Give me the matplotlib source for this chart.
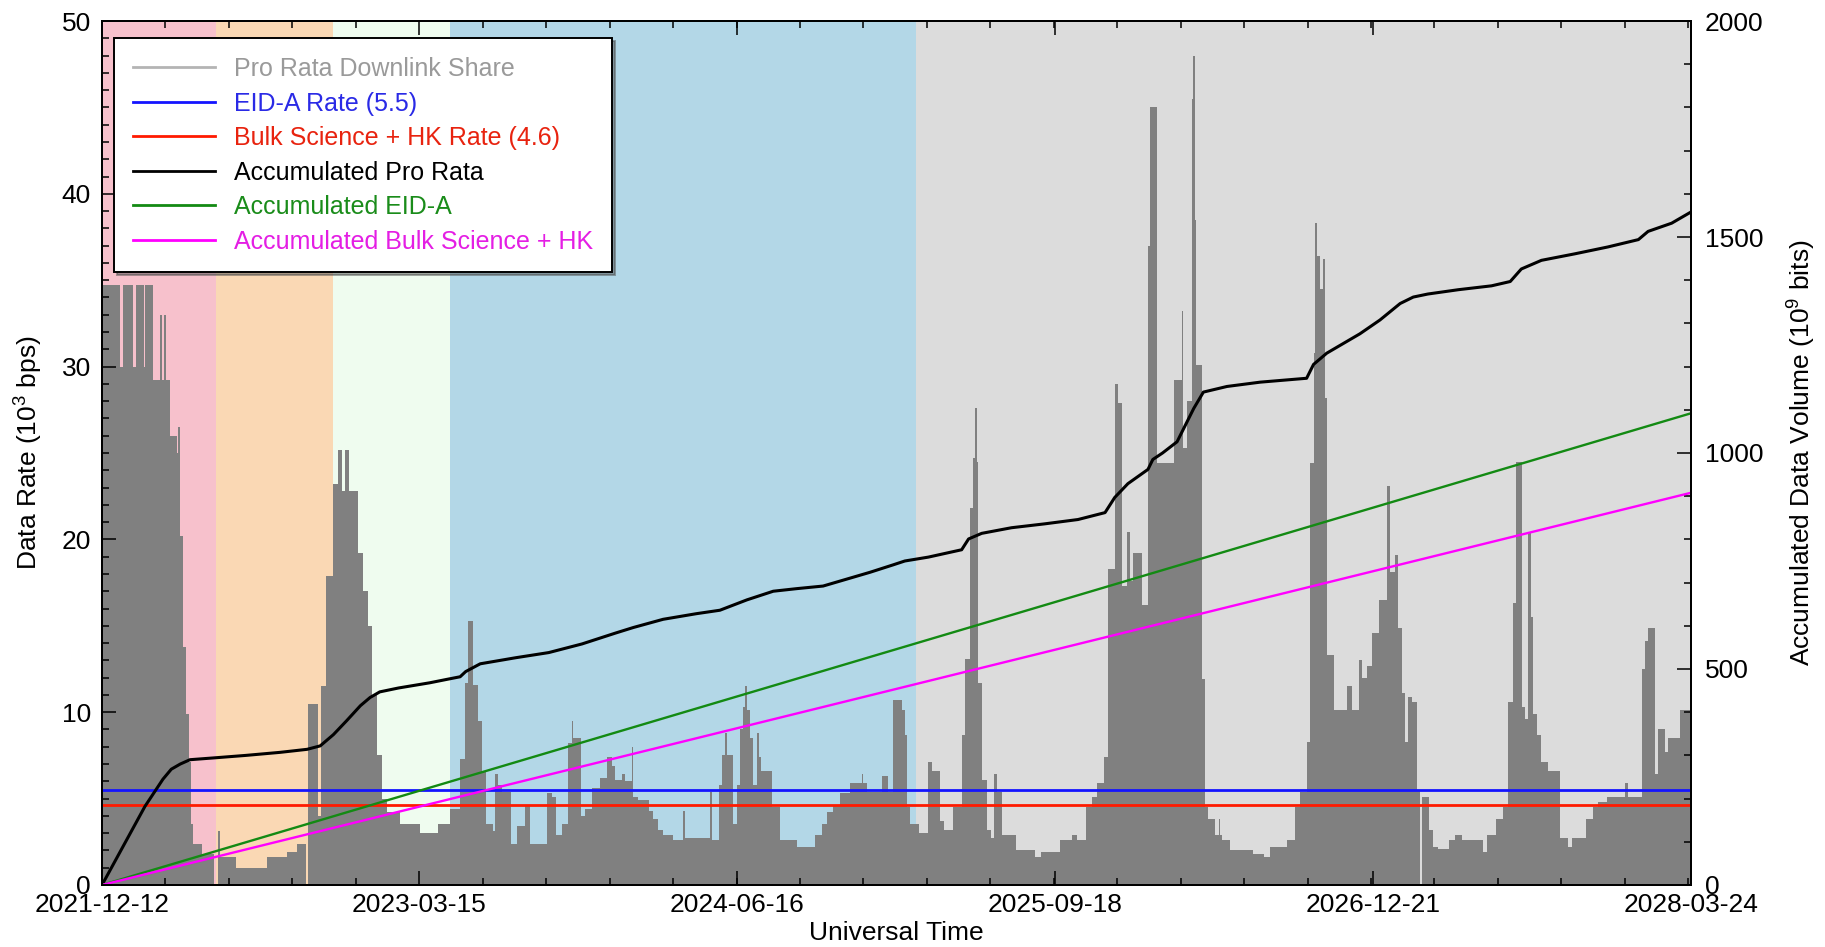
import numpy as np
import matplotlib
matplotlib.use("Agg")
import matplotlib.pyplot as plt
import matplotlib.dates as mdates
from matplotlib import font_manager
from matplotlib.lines import Line2D
from matplotlib.ticker import FixedLocator, MultipleLocator, AutoMinorLocator

installed = {f.name for f in font_manager.fontManager.ttflist}
if 'Liberation Sans Narrow' in installed:
    FONT, FS, LFS = 'Liberation Sans Narrow', 21, 21
else:
    FONT, FS, LFS = 'Liberation Sans', 19, 18
plt.rcParams['font.family'] = [FONT, 'DejaVu Sans']
plt.rcParams['mathtext.fontset'] = 'custom'
plt.rcParams['mathtext.rm'] = FONT
plt.rcParams['mathtext.it'] = FONT
plt.rcParams['mathtext.bf'] = FONT

# time axis
start = np.datetime64('2021-12-12')
end = np.datetime64('2028-03-24')
tick_dates = ['2021-12-12', '2023-03-15', '2024-06-16', '2025-09-18', '2026-12-21', '2028-03-24']

# mission phase shading
phase_edges = ['2021-12-12', '2022-05-26', '2022-11-10', '2023-04-28', '2025-03-01', '2028-03-24']
phase_colors = ['#f7c1cc', '#fad8b4', '#effcef', '#b3d7e7', '#dcdcdc']

# pro rata downlink share (10^3 bps), step edges in days since start
rate_days = [0, 26, 30, 45, 49, 60, 62, 74, 84, 87, 90, 93, 98, 108, 110, 112, 117, 121, 125, 128,
             132, 145, 161, 168, 171, 194, 238, 267, 281, 295, 298, 312, 316, 324, 334, 341, 346, 351, 356, 370,
             377, 384, 390, 397, 404, 411, 430, 459, 485, 502, 517, 524, 529, 536, 543, 548, 555, 565, 567, 572,
             577, 591, 599, 611, 618, 642, 649, 656, 664, 673, 678, 680, 692, 697, 707, 719, 729, 736, 741, 750,
             755, 765, 767, 774, 789, 796, 803, 810, 825, 839, 842, 878, 880, 890, 895, 899, 902, 911, 916, 921,
             926, 928, 931, 936, 940, 945, 948, 952, 967, 979, 1003, 1029, 1039, 1046, 1056, 1065, 1080, 1097, 1099, 1104,
             1126, 1135, 1142, 1155, 1159, 1162, 1167, 1179, 1193, 1198, 1210, 1215, 1229, 1241, 1246, 1253, 1258, 1260, 1263, 1265,
             1270, 1277, 1284, 1287, 1292, 1299, 1320, 1347, 1356, 1383, 1400, 1407, 1421, 1429, 1436, 1446, 1453, 1462, 1467, 1472,
             1479, 1484, 1489, 1501, 1510, 1513, 1523, 1547, 1559, 1561, 1566, 1573, 1575, 1578, 1580, 1588, 1592, 1597, 1607, 1612,
             1614, 1617, 1628, 1662, 1677, 1686, 1710, 1722, 1730, 1739, 1744, 1749, 1751, 1754, 1758, 1763, 1766, 1768, 1778, 1797,
             1804, 1814, 1819, 1826, 1833, 1843, 1855, 1859, 1867, 1871, 1876, 1881, 1886, 1891, 1898, 1902, 1905, 1915, 1922, 1929,
             1944, 1953, 1963, 1994, 1999, 2013, 2023, 2030, 2037, 2042, 2050, 2054, 2059, 2063, 2066, 2071, 2078, 2088, 2105, 2117,
             2122, 2143, 2153, 2160, 2172, 2199, 2203, 2223, 2228, 2232, 2242, 2247, 2256, 2261, 2278, 2294]
rate_vals = [34.7, 30.0, 34.7, 30.0, 34.7, 30.0, 34.7, 29.2, 33.0, 29.2, 33.0, 29.2, 26.0, 25.0, 26.5, 20.2, 13.8, 9.9, 7.1, 3.5,
             2.4, 1.8, 0.0, 3.1, 1.6, 1.0, 1.6, 1.9, 2.4, 0.0, 10.5, 4.0, 11.5, 17.9, 23.2, 25.2, 22.8, 25.2, 22.8, 19.2,
             17.0, 15.0, 11.0, 7.5, 5.0, 4.2, 3.5, 3.0, 3.5, 4.4, 7.3, 11.7, 15.3, 11.6, 9.5, 6.6, 3.5, 3.1, 6.4, 5.8,
             5.4, 2.4, 3.4, 4.6, 2.4, 5.3, 5.1, 2.9, 3.5, 8.2, 9.5, 8.5, 4.0, 4.4, 5.6, 6.2, 7.4, 6.9, 6.1, 6.4,
             6.0, 8.0, 5.1, 4.9, 4.3, 3.8, 3.2, 2.9, 2.6, 4.3, 2.7, 5.4, 2.6, 5.8, 7.5, 8.8, 7.5, 3.5, 5.8, 9.0,
             10.3, 11.5, 10.1, 8.5, 5.8, 8.8, 7.4, 6.6, 4.5, 2.6, 2.2, 2.9, 3.5, 4.2, 4.6, 5.3, 5.9, 6.4, 5.9, 5.4,
             6.3, 5.4, 10.7, 10.1, 8.7, 4.5, 3.5, 3.0, 7.1, 6.6, 3.7, 3.2, 4.5, 8.7, 13.1, 21.8, 24.7, 27.6, 24.5, 11.7,
             6.1, 3.2, 2.7, 6.4, 5.4, 2.9, 2.0, 1.6, 1.9, 2.6, 2.9, 2.6, 4.5, 5.1, 5.9, 7.4, 18.3, 29.0, 27.9, 17.3,
             20.4, 17.6, 19.2, 16.2, 37.0, 45.0, 24.4, 29.2, 33.2, 25.3, 28.0, 45.5, 48.0, 38.5, 30.1, 11.9, 4.5, 3.8, 2.9, 3.8,
             2.9, 2.6, 2.0, 1.8, 1.6, 2.2, 2.6, 4.5, 5.4, 8.3, 24.4, 30.8, 38.3, 36.4, 34.5, 36.2, 28.2, 13.3, 10.1, 11.5,
             10.1, 13.0, 12.0, 12.7, 14.6, 16.5, 23.1, 18.1, 19.1, 14.9, 11.1, 8.3, 10.9, 10.6, 5.5, 0.0, 5.1, 3.2, 2.2, 2.1,
             2.6, 2.9, 2.6, 1.9, 2.9, 3.8, 4.5, 10.6, 16.3, 24.5, 10.3, 9.6, 20.4, 15.5, 9.9, 8.7, 7.1, 6.6, 2.7, 2.2,
             2.7, 3.8, 4.5, 4.8, 5.1, 5.9, 5.1, 12.5, 14.1, 14.9, 6.4, 9.0, 7.7, 8.5, 10.1]

# accumulated data volume (10^9 bits)
acc_days = [0, 62, 88, 100, 113, 127, 160, 208, 257, 296, 315, 334, 353, 373, 387, 401, 428, 473, 498, 517,
            525, 546, 597, 645, 693, 741, 767, 810, 858, 892, 931, 969, 1003, 1041, 1075, 1109, 1142, 1159, 1193, 1241,
            1251, 1270, 1313, 1361, 1409, 1448, 1462, 1481, 1510, 1517, 1531, 1552, 1576, 1590, 1624, 1672, 1739, 1749, 1768, 1816,
            1845, 1874, 1893, 1914, 1958, 2006, 2033, 2049, 2078, 2126, 2174, 2218, 2232, 2266, 2294]
acc_prorata = [0, 182, 245, 268, 280, 290, 294, 300, 307, 314, 322, 348, 380, 415, 434, 447, 456, 468, 476, 482,
               494, 512, 526, 538, 558, 583, 596, 615, 628, 636, 660, 680, 686, 692, 708, 724, 741, 750, 759, 776,
               801, 814, 827, 836, 846, 862, 897, 929, 962, 985, 1000, 1026, 1103, 1141, 1154, 1164, 1173, 1205, 1231, 1276,
               1308, 1346, 1361, 1368, 1378, 1387, 1397, 1426, 1446, 1461, 1477, 1494, 1513, 1532, 1558]
line_days = [0, 2294]
acc_eid = [0, 1092]
acc_bulk = [0, 908]
eid_rate = 5.5
bulk_rate = 4.6


def to_num(days):
    return mdates.date2num(start + np.asarray(days).astype('timedelta64[D]'))


fig = plt.figure(figsize=(18.25, 9.47), dpi=100)
ax = fig.add_axes([0.0559, 0.0655, 0.8707, 0.9123])

for i, c in enumerate(phase_colors):
    ax.axvspan(mdates.date2num(np.datetime64(phase_edges[i])),
               mdates.date2num(np.datetime64(phase_edges[i + 1])),
               color=c, lw=0, zorder=0)

ax.stairs(rate_vals, to_num(rate_days), fill=True, color='#808080', lw=0, zorder=1)
ax.axhline(eid_rate, color='#1414ff', lw=2, zorder=3)
ax.axhline(bulk_rate, color='#ff1a00', lw=2, zorder=3)

ax.set_xlim(mdates.date2num(start), mdates.date2num(end))
ax.set_ylim(0, 50)
ax.xaxis.set_major_locator(FixedLocator(mdates.date2num(np.array(tick_dates, dtype='datetime64[D]'))))
ax.xaxis.set_minor_locator(AutoMinorLocator(5))
ax.xaxis.set_major_formatter(mdates.DateFormatter('%Y-%m-%d'))
ax.yaxis.set_major_locator(MultipleLocator(10))
ax.yaxis.set_minor_locator(MultipleLocator(1))
ax.tick_params(which='both', direction='in', top=True, right=False, width=1.1, labelsize=FS)
ax.tick_params(which='major', length=10)
ax.tick_params(which='minor', length=5)
ax.tick_params(axis='x', pad=6)
ax.tick_params(axis='y', pad=8)
ax.set_xlabel('Universal Time', fontsize=FS, labelpad=3)
ax.set_ylabel(r'Data Rate (10$^{3}$ bps)', fontsize=FS, labelpad=12)
for s in ax.spines.values():
    s.set_linewidth(1.4)

ax2 = ax.twinx()
ax2.plot(to_num(acc_days), acc_prorata, color='black', lw=2.2)
ax2.plot(to_num(line_days), acc_eid, color='#138a13', lw=1.7)
ax2.plot(to_num(line_days), acc_bulk, color='#ff00ff', lw=1.7)
ax2.set_ylim(0, 2000)
ax2.yaxis.set_major_locator(MultipleLocator(500))
ax2.yaxis.set_minor_locator(MultipleLocator(100))
ax2.tick_params(which='both', direction='in', width=1.1, labelsize=FS, pad=10)
ax2.tick_params(which='major', length=10)
ax2.tick_params(which='minor', length=5)
ax2.set_ylabel(r'Accumulated Data Volume (10$^{9}$ bits)', fontsize=FS, labelpad=16)
for s in ax2.spines.values():
    s.set_linewidth(1.4)

labels = ['Pro Rata Downlink Share', f'EID-A Rate ({eid_rate})', f'Bulk Science + HK Rate ({bulk_rate})',
          'Accumulated Pro Rata', 'Accumulated EID-A', 'Accumulated Bulk Science + HK']
line_colors = ['#b4b4b4', '#1414ff', '#ff1a00', 'black', '#138a13', '#ff00ff']
text_colors = ['#9a9a9a', '#2a2ae6', '#e8230f', 'black', '#1a8c1a', '#e41ee4']
handles = [Line2D([], [], color=c, lw=2) for c in line_colors]
leg = ax2.legend(handles, labels, loc='upper left', bbox_to_anchor=(0.0076, 0.98), borderaxespad=0,
                 fontsize=LFS, frameon=True, fancybox=False, shadow=True, framealpha=1,
                 handlelength=3.3, handletextpad=0.75, labelspacing=0.42, borderpad=0.75)
leg.get_frame().set_edgecolor('black')
leg.get_frame().set_linewidth(1.4)
for t, c in zip(leg.get_texts(), text_colors):
    t.set_color(c)

fig.savefig('out.png', dpi=100)
